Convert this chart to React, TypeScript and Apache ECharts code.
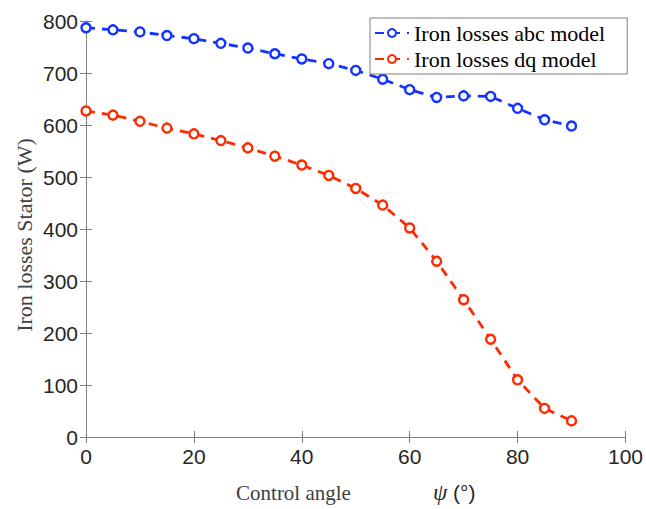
import React, { useEffect, useRef } from "react";
import * as echarts from "echarts";

const angles = [0, 5, 10, 15, 20, 25, 30, 35, 40, 45, 50, 55, 60, 65, 70, 75, 80, 85, 90];
const abcLosses = [787, 783, 779, 772, 766, 757, 748, 737, 727, 718, 705, 688, 668, 653, 656, 655, 632, 610, 598];
const dqLosses = [627, 619, 607, 594, 583, 570, 556, 540, 523, 503, 478, 446, 402, 338, 264, 188, 110, 55, 31];
const seriesNames = ["Iron losses abc model", "Iron losses dq model"];
const yTitle = "Iron losses Stator (W)";

const SANS = "'Liberation Sans', Arial, Helvetica, sans-serif";
const SERIF = "'Liberation Serif', 'Times New Roman', serif";

export default function App() {
  const ref = useRef<HTMLDivElement>(null);
  useEffect(() => {
    if (!ref.current) return;
    const chart = echarts.init(ref.current, null, { renderer: "svg" });
    const axisLineStyle = { color: "#808080", width: 1 };
    const tick = { show: true, inside: true, length: 6, lineStyle: { color: "#808080" } };
    chart.setOption({
      animation: false,
      backgroundColor: "#ffffff",
      grid: { left: 86, right: 19, top: 21, bottom: 69, containLabel: false },
      legend: {
        left: 370,
        top: 18,
        orient: "vertical",
        backgroundColor: "#ffffff",
        borderColor: "#808080",
        borderWidth: 1,
        borderRadius: 0,
        padding: [4, 22, 4, 4],
        itemGap: 4,
        itemWidth: 34,
        itemHeight: 10,
        textStyle: { fontFamily: SERIF, fontSize: 22, color: "#000" },
        data: seriesNames,
      },
      graphic: [
        {
          type: "text",
          x: 24,
          y: 235,
          rotation: Math.PI / 2,
          style: {
            text: yTitle,
            fontFamily: SERIF,
            fontSize: 22,
            fill: "#404040",
            align: "center",
            verticalAlign: "middle",
          },
        },
      ],
      xAxis: [
        {
          type: "value",
          min: 0,
          max: 100,
          interval: 20,
          axisLine: { show: true, lineStyle: axisLineStyle },
          axisTick: tick,
          splitLine: { show: false },
          axisLabel: { fontFamily: SANS, fontSize: 21, color: "#262626", margin: 9 },
          name: "{a|Control angle}{s|}{b|ψ}{c| (°)}",
          nameLocation: "middle",
          nameGap: 44,
          nameTextStyle: {
            rich: {
              a: { fontFamily: SERIF, fontSize: 21, color: "#404040" },
              s: { width: 82 },
              b: { fontFamily: SERIF, fontStyle: "italic", fontSize: 23, color: "#262626" },
              c: { fontFamily: SANS, fontSize: 21, color: "#262626" },
            },
          },
        },
        {
          type: "value",
          position: "top",
          min: 0,
          max: 100,
          interval: 20,
          axisLine: { show: true, lineStyle: axisLineStyle },
          axisTick: tick,
          axisLabel: { show: false },
          splitLine: { show: false },
        },
      ],
      yAxis: [
        {
          type: "value",
          min: 0,
          max: 800,
          interval: 100,
          axisLine: { show: true, lineStyle: axisLineStyle },
          axisTick: tick,
          splitLine: { show: false },
          axisLabel: { fontFamily: SANS, fontSize: 21, color: "#262626", margin: 8 },
        },
        {
          type: "value",
          position: "right",
          min: 0,
          max: 800,
          interval: 100,
          axisLine: { show: true, lineStyle: axisLineStyle },
          axisTick: tick,
          axisLabel: { show: false },
          splitLine: { show: false },
        },
      ],
      series: [
        {
          name: seriesNames[0],
          type: "line",
          data: angles.map((a, i) => [a, abcLosses[i]]),
          symbol: "circle",
          symbolSize: 9,
          showAllSymbol: true,
          itemStyle: { color: "#ffffff", borderColor: "#1433ff", borderWidth: 2.4 },
          lineStyle: { color: "#1433ff", width: 2.8, type: [9, 7] },
          color: "#1433ff",
        },
        {
          name: seriesNames[1],
          type: "line",
          data: angles.map((a, i) => [a, dqLosses[i]]),
          symbol: "circle",
          symbolSize: 9,
          showAllSymbol: true,
          itemStyle: { color: "#ffffff", borderColor: "#ff2a00", borderWidth: 2.4 },
          lineStyle: { color: "#ff2a00", width: 2.8, type: [9, 7] },
          color: "#ff2a00",
        },
      ],
    });
    return () => chart.dispose();
  }, []);
  return (
    <div
      ref={ref}
      style={{ position: "absolute", left: 0, top: 0, width: 646, height: 509 }}
    />
  );
}
